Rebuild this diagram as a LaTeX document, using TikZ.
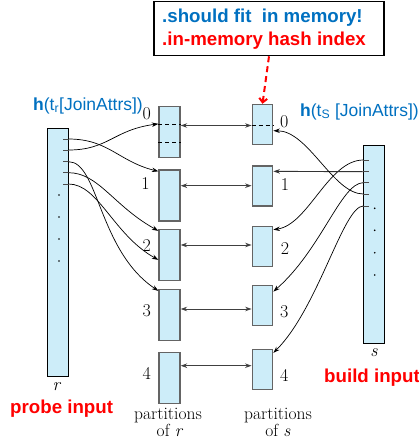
\documentclass[tikz,border=0pt]{standalone}
\usepackage{fontspec}
\newfontfamily\arialf{Liberation Sans}
\usetikzlibrary{arrows.meta}
\definecolor{boxfill}{RGB}{205,237,249}
\definecolor{hblue}{RGB}{0,112,192}
\definecolor{hred}{RGB}{255,0,0}
\definecolor{pgray}{RGB}{100,100,100}
\begin{document}
\begin{tikzpicture}[x=1pt,y=-1pt,
  >={Stealth[length=6.5pt,width=4.5pt]},
  col/.style={draw=black, line width=0.9pt, fill=boxfill, minimum width=21pt, inner sep=0pt},
  pbox/.style={draw=pgray, line width=1.3pt, fill=boxfill, minimum width=21pt, minimum height=51pt, inner sep=0pt},
  sbox/.style={pbox, minimum width=20.5pt, minimum height=40pt},
  conn/.style={->, line width=0.7pt},
  biarrow/.style={<->, line width=1pt, draw=black!75},
  num/.style={font=\fontsize{18}{20}\selectfont, inner sep=0pt, anchor=base},
  captxt/.style={font=\fontsize{17.5}{19}\selectfont, inner sep=0pt, anchor=base},
  lbl/.style={font=\arialf\bfseries\fontsize{18.7}{20}\selectfont, inner sep=0pt, anchor=base west},
  hl/.style={font=\arialf\fontsize{17.5}{19}\selectfont, text=hblue, inner sep=0pt, anchor=base west},
  tickline/.style={line width=0.9pt, draw=black!70},
  sepline/.style={line width=0.8pt, dash pattern=on 4pt off 3pt}
]
\useasboundingbox (0,0) rectangle (419,440);

% memory box
\node[draw, line width=1.2pt, minimum width=230pt, minimum height=54pt, inner sep=0pt] (memo) at (269,28.7) {};
\node[lbl, text=hblue] (t1) at (162,22.7) {.should fit\ \ in memory!};
\node[lbl, text=hred] (t2) at (162,45.5) {.in-memory hash index};

% hash labels
\node[hl] (hr) at (33,110) {\textbf{h}(t\textsubscript{r}[JoinAttrs])};
\node[hl] (hs) at (300,116) {\textbf{h}(t\textsubscript{S} [JoinAttrs])};

% input relations
\node[col, minimum height=248pt] (r) at (58,252) {};
\node[col, minimum height=198pt] (s) at (373.8,244) {};

% partitions of r
\node[pbox] (p0) at (169.5,132) {};
\node[pbox] (p1) at (169.5,195.5) {};
\node[pbox] (p2) at (169.5,255) {};
\node[pbox] (p3) at (169.5,315) {};
\node[pbox] (p4) at (169.5,378) {};
% partitions of s
\node[sbox] (s0) at (262.5,124.4) {};
\node[sbox] (s1) at (262.5,186) {};
\node[sbox] (s2) at (262.5,246.3) {};
\node[sbox] (s3) at (262.5,305.2) {};
\node[sbox] (s4) at (262.5,369.5) {};

% dashed separators
\draw[sepline] ([yshift=7.7pt]p0.west) -- ([yshift=7.7pt]p0.east);
\draw[sepline] ([yshift=-10.3pt]p0.west) -- ([yshift=-10.3pt]p0.east);
\draw[sepline] ([yshift=-0.9pt]s0.west) -- ([yshift=-0.9pt]s0.east);

% partition numbers
\node[num] (l0) at (146.7,119.3) {0};
\node[num] (l1) at (145.5,189) {1};
\node[num] (l2) at (146.7,251.5) {2};
\node[num] (l3) at (146.7,316) {3};
\node[num] (l4) at (146.7,379.3) {4};
\node[num] (m0) at (284.3,127.3) {0};
\node[num] (m1) at (285,190.5) {1};
\node[num] (m2) at (285,254.3) {2};
\node[num] (m3) at (284.3,317.7) {3};
\node[num] (m4) at (284.3,381) {4};

% ticks on r
\coordinate (rt1) at (68.5,139);
\coordinate (rt2) at (68.5,150);
\coordinate (rt3) at (68.5,161.7);
\coordinate (rt4) at (68.5,172.7);
\coordinate (rt5) at (68.5,184);
\foreach \t in {rt1,rt2,rt3,rt4,rt5} \draw[tickline] (\t) -- ++(-5.5,0);
\foreach \y in {195,217,239,261} \fill (59,\y) circle[radius=0.9pt];

% ticks on s
\coordinate (st1) at (363.3,160);
\coordinate (st2) at (363.3,171.7);
\coordinate (st3) at (363.3,182.7);
\coordinate (st4) at (363.3,194);
\coordinate (st5) at (363.3,206);
\foreach \t in {st1,st2,st3,st4,st5} \draw[tickline] (\t) -- ++(5.7,0);
\foreach \y in {208.3,230.3,252.7,275} \fill (374.7,\y) circle[radius=0.9pt];

% r -> partitions
\draw[conn] (rt1) .. controls +(40,0) and +(-40,-10) .. ([yshift=-2pt]p1.north west);
\draw[conn] (rt2) .. controls +(40,0) and +(-45,6) .. ([yshift=-18pt]p0.north west);
\draw[conn] (rt3) .. controls +(30,0) and +(-60,-40) .. ([yshift=-2pt]p3.north west);
\draw[conn] (rt4) .. controls +(30,0) and +(-45,-25) .. ([yshift=-2pt]p2.north west);
\draw[conn] (rt5) .. controls +(30,0) and +(-45,-25) .. ([yshift=-31pt]p2.north west);

% s -> partitions
\draw[conn] (st1) .. controls +(-35,0) and +(35,-5) .. ([yshift=-4pt]s2.north east);
\draw[conn, line width=0.9pt, draw=black!80] (st2) -- ([yshift=-6pt]s1.north east);
\draw[conn] (st3) .. controls +(-22,0) and +(48,-42) .. ([yshift=-7pt]s3.north east);
\draw[conn] (st4) .. controls +(-30,0) and +(35,0) .. ([yshift=-27pt]s0.north east);
\draw[conn] (st5) .. controls +(-20,0) and +(45,-45) .. ([yshift=-4pt]s4.north east);

% partition pairs
\draw[biarrow] ([yshift=6.5pt]p0.east) -- ([yshift=-1.1pt]s0.west);
\draw[biarrow] ([yshift=9.8pt]p1.east) -- ([yshift=0.3pt]s1.west);
\draw[biarrow] ([yshift=10pt]p2.east) -- ([yshift=1.3pt]s2.west);
\draw[biarrow] ([yshift=6pt]p3.east) -- ([yshift=-3.8pt]s3.west);
\draw[biarrow] ([yshift=12.3pt]p4.east) -- ([yshift=3.8pt]s4.west);

% in-memory pointer
\draw[hred, line width=2pt, dash pattern=on 6pt off 4pt, -{Straight Barb[length=4pt,width=8pt]}] (memo.south) -- (s0.north);

% bottom labels
\node[num] (rl) at (57,390) {\textit{r}};
\node[num] (sl) at (374,356) {\textit{s}};
\node[lbl, text=hred] (probe) at (10,413) {probe input};
\node[lbl, text=hred] (build) at (324,382.7) {build input};
\node[captxt] (pr1) at (168,419.5) {partitions};
\node[captxt] (pr2) at (170,436.5) {of \textit{r}};
\node[captxt] (ps1) at (278,419.5) {partitions};
\node[captxt] (ps2) at (278,436.5) {of \textit{s}};
\end{tikzpicture}
\end{document}
